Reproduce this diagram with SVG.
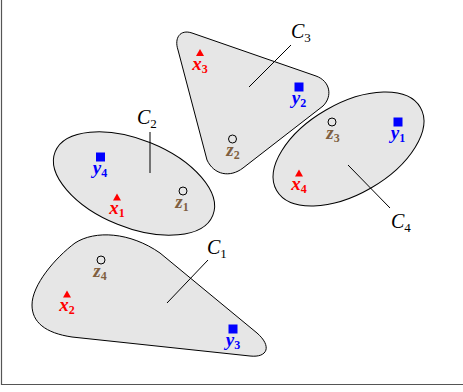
<svg xmlns="http://www.w3.org/2000/svg" width="463" height="392" viewBox="0 0 463 392">
<style>
.blob{fill:#e6e6e6;stroke:#000;stroke-width:1}
.lead{stroke:#000;stroke-width:1;fill:none}
.lab{font-family:"Liberation Serif",serif;font-style:italic;font-weight:bold;font-size:19px;text-anchor:middle}
.sub{font-style:normal;font-size:12px}
.cl{font-family:"Liberation Serif",serif;font-style:italic;font-size:20px}
.cs{font-style:normal;font-size:13px}
.r{fill:#ff0000}
.b{fill:#0000ff}
.z{fill:#7f5f3f}
.circ{fill:none;stroke:#000;stroke-width:1}
</style>
<rect width="463" height="392" fill="#fff"/>
<g id="frame"><path d="M1.5,0 V384.5 H463" fill="none" stroke="#555" stroke-width="1.2"/></g>
<g id="C1">
<path class="blob" d="M32,305 C32,285 55,258 75,243 C95,230 130,232 160,253 L257,333 C272,346 268,358 250,356 L72,337 C45,333 32,322 32,305 Z"/>
</g>
<g id="C2">
<ellipse class="blob" cx="134" cy="183.5" rx="85" ry="44" transform="rotate(22 134 183.5)"/>
</g>
<g id="C3">
<path class="blob" d="M178,50 C174,38 180,29 192,33 L316,76 C330,81 333,96 323,106 L243,168 C230,178 214,175 207,160 Z"/>
</g>
<g id="C4">
<ellipse class="blob" cx="348.5" cy="149" rx="83" ry="45" transform="rotate(-30 348.5 149)"/>
</g>
<g id="connectors">
<line class="lead" x1="167" y1="303" x2="208" y2="260"/>
<line class="lead" x1="150" y1="132" x2="150" y2="173"/>
<line class="lead" x1="249" y1="87" x2="291" y2="45"/>
<line class="lead" x1="348" y1="165" x2="390" y2="208"/>
</g>
<g id="labels-C">
<text class="cl" x="207" y="254">C<tspan class="cs" dy="4">1</tspan></text>
<text class="cl" x="137" y="124">C<tspan class="cs" dy="4">2</tspan></text>
<text class="cl" x="291" y="38">C<tspan class="cs" dy="4">3</tspan></text>
<text class="cl" x="391" y="228">C<tspan class="cs" dy="4">4</tspan></text>
</g>
<g id="x3"><path class="r" d="M196,56 L200,49 L204,56 Z"/><text class="lab r" x="200" y="70">x<tspan class="sub" dy="3">3</tspan></text></g>
<g id="y2"><rect class="b" x="294.5" y="82.5" width="9" height="9"/><text class="lab b" x="299" y="104">y<tspan class="sub" dy="3">2</tspan></text></g>
<g id="z2"><circle class="circ" cx="232.5" cy="139" r="4"/><text class="lab z" x="233" y="156">z<tspan class="sub" dy="3">2</tspan></text></g>
<g id="z3"><circle class="circ" cx="332" cy="122" r="4"/><text class="lab z" x="333" y="139">z<tspan class="sub" dy="3">3</tspan></text></g>
<g id="y1"><rect class="b" x="393.5" y="117.5" width="9" height="9"/><text class="lab b" x="398" y="139">y<tspan class="sub" dy="3">1</tspan></text></g>
<g id="x4"><path class="r" d="M295,176.5 L299,169.5 L303,176.5 Z"/><text class="lab r" x="299" y="190">x<tspan class="sub" dy="3">4</tspan></text></g>
<g id="y4"><rect class="b" x="96" y="152.5" width="9" height="9"/><text class="lab b" x="100" y="174">y<tspan class="sub" dy="3">4</tspan></text></g>
<g id="x1"><path class="r" d="M113,200.5 L117,193.5 L121,200.5 Z"/><text class="lab r" x="117" y="214">x<tspan class="sub" dy="3">1</tspan></text></g>
<g id="z1"><circle class="circ" cx="183" cy="191" r="4"/><text class="lab z" x="182" y="208">z<tspan class="sub" dy="3">1</tspan></text></g>
<g id="z4"><circle class="circ" cx="101" cy="260" r="4"/><text class="lab z" x="100" y="277">z<tspan class="sub" dy="3">4</tspan></text></g>
<g id="x2"><path class="r" d="M63,297.5 L67,290.5 L71,297.5 Z"/><text class="lab r" x="67" y="311">x<tspan class="sub" dy="3">2</tspan></text></g>
<g id="y3"><rect class="b" x="228.5" y="324.5" width="9" height="9"/><text class="lab b" x="233" y="346">y<tspan class="sub" dy="3">3</tspan></text></g>
</svg>
